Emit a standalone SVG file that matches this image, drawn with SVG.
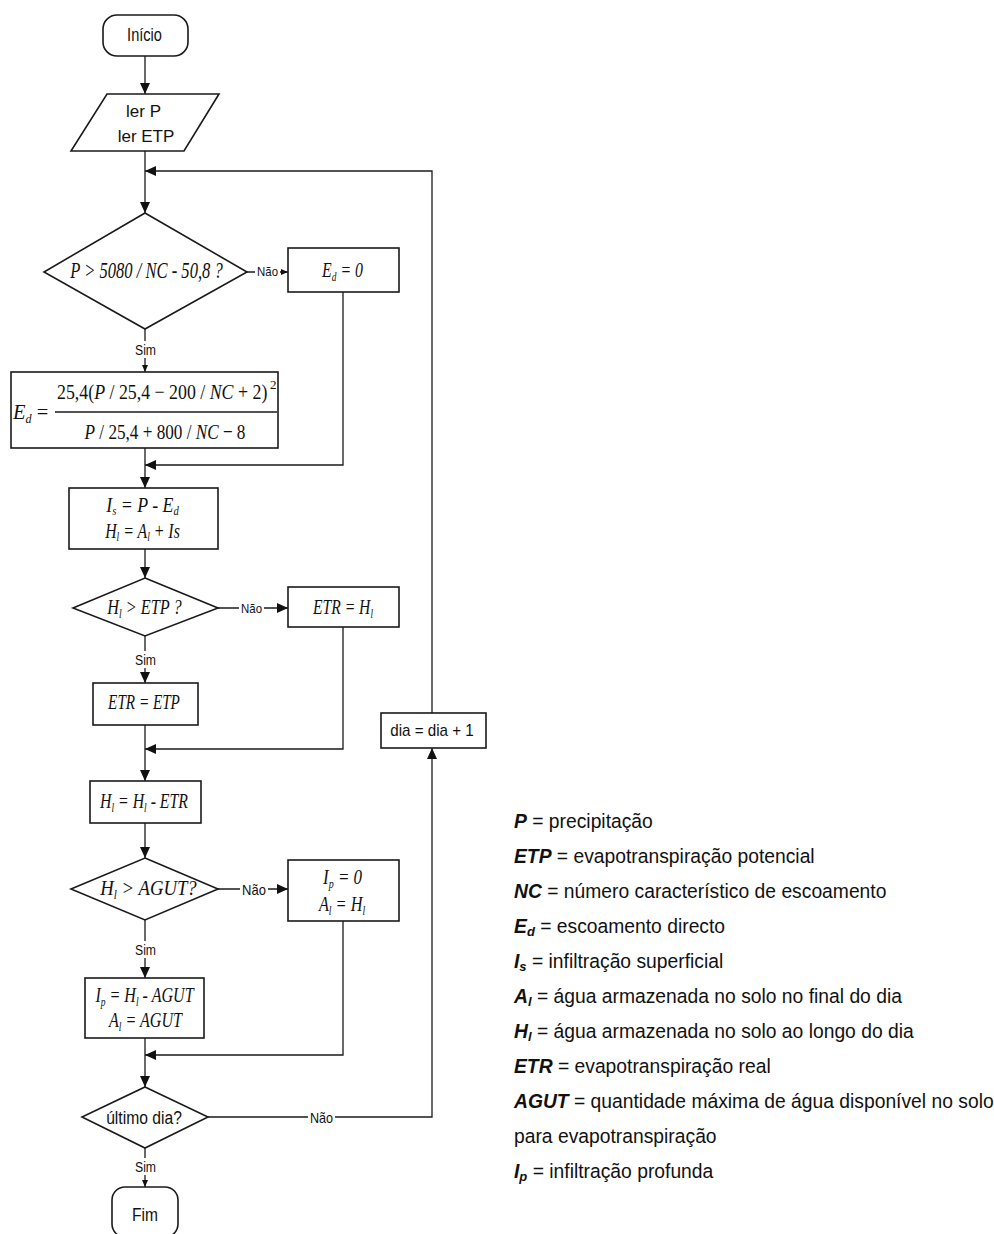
<svg xmlns="http://www.w3.org/2000/svg" width="994" height="1234" viewBox="0 0 994 1234">
<defs>
<style>
.sh{fill:#fff;stroke:#1a1a1a;stroke-width:1.6}
.ln{fill:none;stroke:#1a1a1a;stroke-width:1.3}
.sa{font-family:"Liberation Sans",Arial,sans-serif;fill:#111;text-anchor:middle}
.se{font-family:"Liberation Serif","Times New Roman",serif;fill:#111}
.m{text-anchor:middle}
.it{font-style:italic}
.lg{font-family:"Liberation Sans",Arial,sans-serif;font-size:19.3px;fill:#111}
.bi{font-weight:bold;font-style:italic}
.bg{fill:#fff;stroke:none}
</style>
<marker id="ah" markerUnits="userSpaceOnUse" markerWidth="11" markerHeight="10" refX="11" refY="5" orient="auto"><path d="M0,0 L11,5 L0,10 z" fill="#111"/></marker>
<marker id="as" markerUnits="userSpaceOnUse" markerWidth="7" markerHeight="6" refX="7" refY="3" orient="auto"><path d="M0,0 L7,3 L0,6 z" fill="#111"/></marker>
</defs>
<rect width="994" height="1234" fill="#fff"/>

<g id="connectors">
<path class="ln" d="M145,56 V94" marker-end="url(#ah)"/>
<path class="ln" d="M145,151 V213" marker-end="url(#ah)"/>
<path class="ln" d="M432,713 V171 H145" marker-end="url(#ah)"/>
<path class="ln" d="M145,329 V372" marker-end="url(#as)"/>
<path class="ln" d="M247,272 H288" marker-end="url(#as)"/>
<path class="ln" d="M343,292 V465 H145" marker-end="url(#ah)"/>
<path class="ln" d="M145,448 V488" marker-end="url(#ah)"/>
<path class="ln" d="M145,549 V578" marker-end="url(#ah)"/>
<path class="ln" d="M218,608 H288" marker-end="url(#ah)"/>
<path class="ln" d="M145,636 V683" marker-end="url(#ah)"/>
<path class="ln" d="M343,627 V749 H145" marker-end="url(#ah)"/>
<path class="ln" d="M145,725 V781" marker-end="url(#ah)"/>
<path class="ln" d="M145,823 V858" marker-end="url(#ah)"/>
<path class="ln" d="M218,889 H288" marker-end="url(#ah)"/>
<path class="ln" d="M145,920 V978" marker-end="url(#ah)"/>
<path class="ln" d="M343,921 V1055 H145" marker-end="url(#ah)"/>
<path class="ln" d="M145,1038 V1087" marker-end="url(#ah)"/>
<path class="ln" d="M208,1117 H432 V748" marker-end="url(#ah)"/>
<path class="ln" d="M145,1148 V1187" marker-end="url(#as)"/>

<rect class="bg" x="255" y="263" width="25" height="16"/>
<text class="sa" font-size="13" transform="translate(267.5,276) scale(0.88,1)">Não</text>
<rect class="bg" x="133" y="341" width="25" height="17"/>
<text class="sa" font-size="14" transform="translate(145.5,355) scale(0.87,1)">Sim</text>
<rect class="bg" x="239" y="600" width="25" height="16"/>
<text class="sa" font-size="13" transform="translate(251.5,613) scale(0.88,1)">Não</text>
<rect class="bg" x="133" y="651" width="25" height="17"/>
<text class="sa" font-size="14" transform="translate(145.5,665) scale(0.87,1)">Sim</text>
<rect class="bg" x="240" y="882" width="28" height="16"/>
<text class="sa" font-size="14" transform="translate(254,895) scale(0.93,1)">Não</text>
<rect class="bg" x="133" y="941" width="25" height="17"/>
<text class="sa" font-size="14" transform="translate(145.5,955) scale(0.87,1)">Sim</text>
<rect class="bg" x="308" y="1109" width="27" height="16"/>
<text class="sa" font-size="14" transform="translate(321.5,1123) scale(0.9,1)">Não</text>
<rect class="bg" x="133" y="1158" width="25" height="17"/>
<text class="sa" font-size="14" transform="translate(145.5,1172) scale(0.87,1)">Sim</text>
</g>

<g id="inicio">
<rect class="sh" x="103" y="15" width="85" height="41" rx="14"/>
<text class="sa" font-size="18" transform="translate(144.5,41) scale(0.81,1)">Início</text>
</g>

<g id="ler">
<polygon class="sh" points="107,94 219,94 184,151 71,151"/>
<text class="sa" x="143.5" y="117" font-size="17">ler P</text>
<text class="sa" x="146" y="142" font-size="17">ler ETP</text>
</g>

<g id="dec1">
<polygon class="sh" points="145,213 247,272 145,329 44,272"/>
<text class="se it m" font-size="23" transform="translate(146.5,278) scale(0.72,1)">P &gt; 5080 / NC - 50,8 ?</text>
</g>

<g id="ed0">
<rect class="sh" x="288" y="248" width="111" height="44"/>
<text class="se it m" font-size="22" transform="translate(342.5,277) scale(0.72,1)">E<tspan font-size="13" dy="4">d</tspan><tspan dy="-4"> = 0</tspan></text>
</g>

<g id="formula">
<rect class="sh" x="11" y="372" width="267" height="76"/>
<text class="se" font-size="22" transform="translate(13,419) scale(0.93,1)"><tspan class="it">E</tspan><tspan class="it" font-size="13" dy="4">d</tspan><tspan dy="-4"> =</tspan></text>
<line class="ln" x1="55" y1="412" x2="277" y2="412"/>
<text class="se" font-size="21" transform="translate(57,399) scale(0.85,1)">25,4(<tspan class="it">P</tspan> / 25,4 − 200 / <tspan class="it">NC</tspan> + 2)</text>
<text class="se" x="270" y="389" font-size="13">2</text>
<text class="se m" font-size="22" transform="translate(165,439) scale(0.78,1)"><tspan class="it">P</tspan> / 25,4 + 800 / <tspan class="it">NC</tspan> − 8</text>
</g>

<g id="is">
<rect class="sh" x="69" y="488" width="149" height="61"/>
<text class="se it m" font-size="20" transform="translate(142.5,512) scale(0.89,1)">I<tspan font-size="12" dy="3">s</tspan><tspan dy="-3"> = P - E</tspan><tspan font-size="12" dy="3">d</tspan></text>
<text class="se it m" font-size="20" transform="translate(142.5,538) scale(0.79,1)">H<tspan font-size="12" dy="3">l</tspan><tspan dy="-3"> = A</tspan><tspan font-size="12" dy="3">l</tspan><tspan dy="-3"> + Is</tspan></text>
</g>

<g id="dec2">
<polygon class="sh" points="145,578 218,608 145,636 73,608"/>
<text class="se it m" font-size="22" transform="translate(144.5,614) scale(0.74,1)">H<tspan font-size="13" dy="4">l</tspan><tspan dy="-4"> &gt; ETP ?</tspan></text>
</g>

<g id="etrhl">
<rect class="sh" x="288" y="587" width="111" height="40"/>
<text class="se it m" font-size="22" transform="translate(343,614) scale(0.71,1)">ETR = H<tspan font-size="13" dy="4">l</tspan></text>
</g>

<g id="etretp">
<rect class="sh" x="93" y="683" width="105" height="42"/>
<text class="se it m" font-size="22" transform="translate(144,709) scale(0.69,1)">ETR = ETP</text>
</g>

<g id="dia">
<rect class="sh" x="381" y="713" width="105" height="35"/>
<text class="sa" font-size="16" transform="translate(432,736) scale(0.95,1)">dia = dia + 1</text>
</g>

<g id="hl">
<rect class="sh" x="90" y="781" width="111" height="42"/>
<text class="se it m" font-size="22" transform="translate(144,808) scale(0.72,1)">H<tspan font-size="13" dy="4">l</tspan><tspan dy="-4"> = H</tspan><tspan font-size="13" dy="4">l</tspan><tspan dy="-4"> - ETR</tspan></text>
</g>

<g id="dec3">
<polygon class="sh" points="145,858 218,889 145,920 71,889"/>
<text class="se it m" font-size="22" transform="translate(148.5,895) scale(0.85,1)">H<tspan font-size="13" dy="4">l</tspan><tspan dy="-4"> &gt; AGUT?</tspan></text>
</g>

<g id="ip0">
<rect class="sh" x="288" y="860" width="111" height="61"/>
<text class="se it m" font-size="22" transform="translate(342.5,884) scale(0.77,1)">I<tspan font-size="13" dy="4">p</tspan><tspan dy="-4"> = 0</tspan></text>
<text class="se it m" font-size="22" transform="translate(342,911) scale(0.74,1)">A<tspan font-size="13" dy="4">l</tspan><tspan dy="-4"> = H</tspan><tspan font-size="13" dy="4">l</tspan></text>
</g>

<g id="ip">
<rect class="sh" x="85" y="978" width="119" height="60"/>
<text class="se it m" font-size="22" transform="translate(144.5,1002) scale(0.73,1)">I<tspan font-size="13" dy="4">p</tspan><tspan dy="-4"> = H</tspan><tspan font-size="13" dy="4">l</tspan><tspan dy="-4"> - AGUT</tspan></text>
<text class="se it m" font-size="22" transform="translate(145.5,1027) scale(0.73,1)">A<tspan font-size="13" dy="4">l</tspan><tspan dy="-4"> = AGUT</tspan></text>
</g>

<g id="dec4">
<polygon class="sh" points="145,1087 208,1117 145,1148 82,1117"/>
<text class="sa" font-size="18" transform="translate(144,1124) scale(0.87,1)">último dia?</text>
</g>

<g id="fim">
<rect class="sh" x="112" y="1187" width="66" height="50" rx="13"/>
<text class="sa" font-size="19" transform="translate(145,1221) scale(0.82,1)">Fim</text>
</g>

<g id="legend">
<text class="lg" x="514" y="828"><tspan class="bi">P</tspan> = precipitação</text>
<text class="lg" x="514" y="863"><tspan class="bi">ETP</tspan> = evapotranspiração potencial</text>
<text class="lg" x="514" y="898"><tspan class="bi">NC</tspan> = número característico de escoamento</text>
<text class="lg" x="514" y="933"><tspan class="bi">E</tspan><tspan class="bi" font-size="13" dy="3">d</tspan><tspan dy="-3"> = escoamento directo</tspan></text>
<text class="lg" x="514" y="968"><tspan class="bi">I</tspan><tspan class="bi" font-size="13" dy="3">s</tspan><tspan dy="-3"> = infiltração superficial</tspan></text>
<text class="lg" x="514" y="1003"><tspan class="bi">A</tspan><tspan class="bi" font-size="13" dy="3">l</tspan><tspan dy="-3"> = água armazenada no solo no final do dia</tspan></text>
<text class="lg" x="514" y="1038"><tspan class="bi">H</tspan><tspan class="bi" font-size="13" dy="3">l</tspan><tspan dy="-3"> = água armazenada no solo ao longo do dia</tspan></text>
<text class="lg" x="514" y="1073"><tspan class="bi">ETR</tspan> = evapotranspiração real</text>
<text class="lg" x="514" y="1108"><tspan class="bi">AGUT</tspan> = quantidade máxima de água disponível no solo</text>
<text class="lg" x="514" y="1143">para evapotranspiração</text>
<text class="lg" x="514" y="1178"><tspan class="bi">I</tspan><tspan class="bi" font-size="13" dy="3">p</tspan><tspan dy="-3"> = infiltração profunda</tspan></text>
</g>
</svg>
